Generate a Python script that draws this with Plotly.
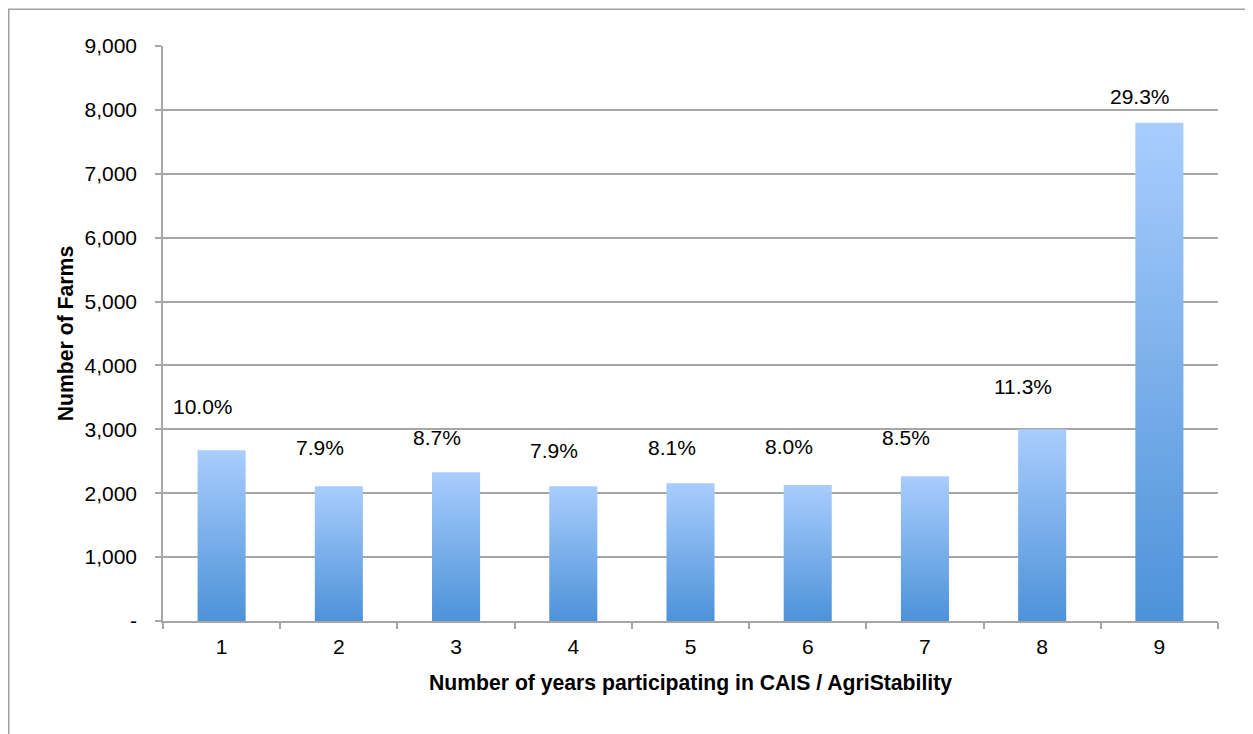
import plotly.graph_objects as go

# ---- data ----
years = [1, 2, 3, 4, 5, 6, 7, 8, 9]
farms = [2672, 2110, 2327, 2110, 2155, 2130, 2265, 3000, 7800]
share_labels = ["10.0%", "7.9%", "8.7%", "7.9%", "8.1%", "8.0%", "8.5%", "11.3%", "29.3%"]
y_tick_values = [0, 1000, 2000, 3000, 4000, 5000, 6000, 7000, 8000, 9000]
y_tick_labels = ["-", "1,000", "2,000", "3,000", "4,000", "5,000", "6,000", "7,000", "8,000", "9,000"]

# ---- style ----
BAR_WIDTH = 0.41
BAR_TOP = "#a9cdfd"
BAR_BOTTOM = "#4d92d9"
GRID = "#a6a6a6"
FONT = "Liberation Sans, Arial, Helvetica, sans-serif"
label_lift_px = [44, 39, 35, 36, 36, 38, 39, 43, 26]

# page body adds an 8px offset, so the figure is sized to fit the window
W, H = 1245, 726
ML, MR, MT, MB = 155, 35, 38, 113

fig = go.Figure()

for yr, v in zip(years, farms):
    x0, x1 = yr - BAR_WIDTH / 2, yr + BAR_WIDTH / 2
    fig.add_trace(go.Scatter(
        x=[x0, x1, x1, x0, x0],
        y=[0, 0, v, v, 0],
        mode="lines",
        line=dict(width=0, color=BAR_BOTTOM),
        fill="toself",
        fillgradient=dict(type="vertical", start=0, stop=v,
                          colorscale=[[0, BAR_BOTTOM], [1, BAR_TOP]]),
        hoverinfo="text",
        text=f"{yr}: {v:,}",
        showlegend=False,
    ))

for yr, v, lab, lift in zip(years, farms, share_labels, label_lift_px):
    fig.add_annotation(
        x=yr, y=v, text=lab, showarrow=False,
        xanchor="center", yanchor="middle",
        xshift=-19, yshift=lift,
        font=dict(size=21, color="#000000", family=FONT),
    )

# outer frame (only left and top edges fall inside the image)
pw = W - ML - MR
ph = H - MT - MB
fig.add_shape(
    type="rect", xref="paper", yref="paper",
    x0=(0.75 - ML) / pw, x1=(W + 20 - ML) / pw,
    y0=-(H + 20 - (H - MB)) / ph, y1=((H - MB) - 1.3) / ph,
    line=dict(color="#a0a0a0", width=1.5), fillcolor="rgba(0,0,0,0)",
    layer="below",
)

fig.update_layout(
    width=W, height=H,
    margin=dict(l=ML, r=MR, t=MT, b=MB, pad=0),
    paper_bgcolor="white", plot_bgcolor="white",
    font=dict(family=FONT, size=21, color="#000000"),
    showlegend=False,
)

fig.update_xaxes(
    range=[0.5, 9.5],
    tickvals=years, ticktext=[str(y) for y in years],
    ticks="", showgrid=False, zeroline=False,
    showline=True, linecolor=GRID, linewidth=1.5,
    tickfont=dict(size=21, family=FONT, color="#000000"),
    ticklabelstandoff=6,
    minor=dict(tickvals=[y - 0.5 for y in years] + [years[-1] + 0.5],
               ticks="outside", ticklen=6, tickcolor=GRID, tickwidth=1.5,
               showgrid=False),
    title=dict(text="<b>Number of years participating in CAIS / AgriStability</b>",
               font=dict(size=21.2, family=FONT, color="#000000"), standoff=18),
)

fig.update_yaxes(
    range=[0, 9000],
    tickvals=y_tick_values, ticktext=y_tick_labels,
    ticks="outside", ticklen=6, tickcolor=GRID, tickwidth=1.5,
    showgrid=True, gridcolor=GRID, gridwidth=1.5,
    zeroline=False,
    showline=True, linecolor=GRID, linewidth=1.5,
    tickfont=dict(size=21, family=FONT, color="#000000"),
    ticklabelstandoff=14,
    title=dict(text="<b>Number of Farms</b>",
               font=dict(size=21.2, family=FONT, color="#000000"), standoff=5),
)

fig.write_html("out.html")
